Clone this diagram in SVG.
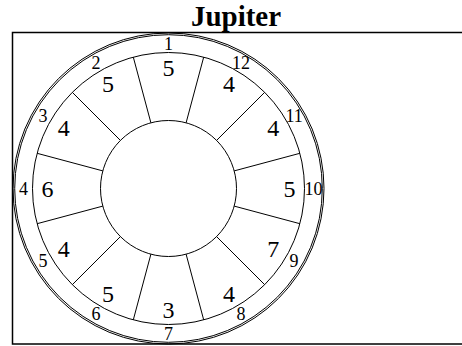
<svg xmlns="http://www.w3.org/2000/svg" width="462" height="346" viewBox="0 0 462 346">
<style>
.ln{fill:none;stroke:#000;stroke-width:1}
.frame{fill:none;stroke:#000;stroke-width:1.5}
.title{font-family:"Liberation Serif","Times New Roman",serif;font-weight:bold;font-size:29px;text-anchor:middle;fill:#000}
.hn{font-family:"Liberation Serif","Times New Roman",serif;font-size:18px;text-anchor:middle;fill:#000}
.val{font-family:"Liberation Serif","Times New Roman",serif;font-size:24px;text-anchor:middle;fill:#000}
</style>
<rect width="462" height="346" fill="#fff"/>
<text class="title" x="236" y="26">Jupiter</text>
<rect class="frame" x="12.5" y="32.5" width="460" height="311.5"/>
<g id="wheel">
<circle class="ln" cx="168.5" cy="188.5" r="155.5" stroke-width="1.3"/>
<circle class="ln" cx="168.5" cy="188.5" r="153.8"/>
<circle class="ln" cx="168.5" cy="188.5" r="136"/>
<circle class="ln" cx="168.5" cy="188.5" r="68"/>
</g>
<g id="connectors">
<line class="ln" x1="186.10" y1="122.82" x2="203.70" y2="57.13"/>
<line class="ln" x1="216.58" y1="140.42" x2="264.67" y2="92.33"/>
<line class="ln" x1="234.18" y1="170.90" x2="299.87" y2="153.30"/>
<line class="ln" x1="234.18" y1="206.10" x2="299.87" y2="223.70"/>
<line class="ln" x1="216.58" y1="236.58" x2="264.67" y2="284.67"/>
<line class="ln" x1="186.10" y1="254.18" x2="203.70" y2="319.87"/>
<line class="ln" x1="150.90" y1="254.18" x2="133.30" y2="319.87"/>
<line class="ln" x1="120.42" y1="236.58" x2="72.33" y2="284.67"/>
<line class="ln" x1="102.82" y1="206.10" x2="37.13" y2="223.70"/>
<line class="ln" x1="102.82" y1="170.90" x2="37.13" y2="153.30"/>
<line class="ln" x1="120.42" y1="140.42" x2="72.33" y2="92.33"/>
<line class="ln" x1="150.90" y1="122.82" x2="133.30" y2="57.13"/>
</g>
<g id="house1"><text class="hn" x="168.5" y="49.6">1</text><text class="val" x="168.5" y="75.7">5</text></g>
<g id="house2"><text class="hn" x="96.0" y="69.0">2</text><text class="val" x="108.0" y="91.9">5</text></g>
<g id="house3"><text class="hn" x="42.9" y="122.1">3</text><text class="val" x="63.7" y="136.2">4</text></g>
<g id="house4"><text class="hn" x="23.5" y="194.6">4</text><text class="val" x="47.5" y="196.7">6</text></g>
<g id="house5"><text class="hn" x="42.9" y="267.1">5</text><text class="val" x="63.7" y="257.2">4</text></g>
<g id="house6"><text class="hn" x="96.0" y="320.2">6</text><text class="val" x="108.0" y="301.5">5</text></g>
<g id="house7"><text class="hn" x="168.5" y="339.6">7</text><text class="val" x="168.5" y="317.7">3</text></g>
<g id="house8"><text class="hn" x="241.0" y="320.2">8</text><text class="val" x="229.0" y="301.5">4</text></g>
<g id="house9"><text class="hn" x="294.1" y="267.1">9</text><text class="val" x="273.3" y="257.2">7</text></g>
<g id="house10"><text class="hn" x="313.5" y="194.6">10</text><text class="val" x="289.5" y="196.7">5</text></g>
<g id="house11"><text class="hn" x="294.1" y="122.1">11</text><text class="val" x="273.3" y="136.2">4</text></g>
<g id="house12"><text class="hn" x="241.0" y="69.0">12</text><text class="val" x="229.0" y="91.9">4</text></g>
</svg>
